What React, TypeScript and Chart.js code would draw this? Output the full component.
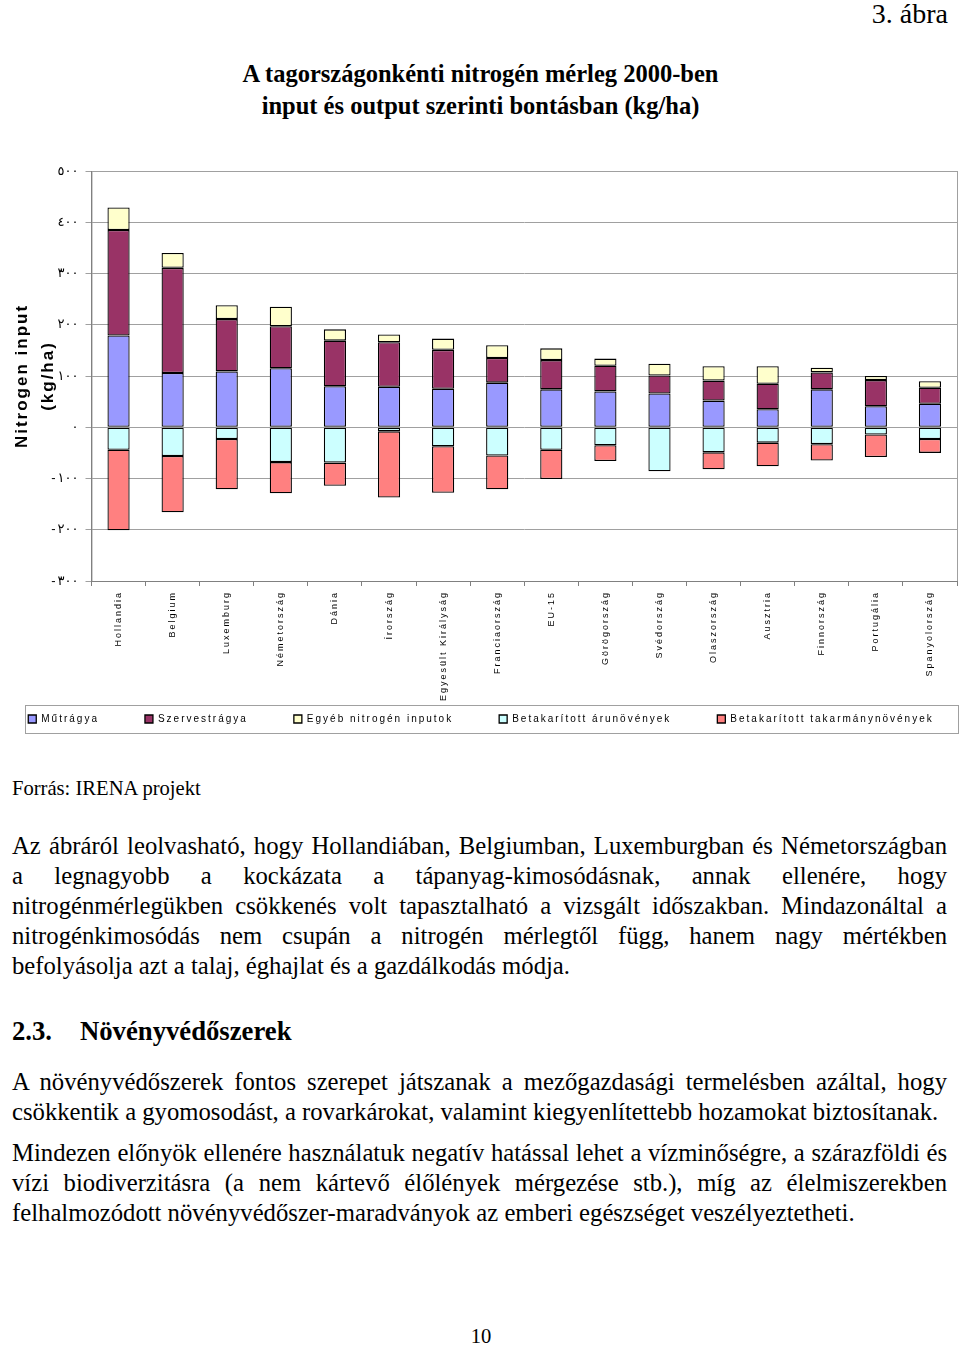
import React, { useEffect, useRef } from 'react';
import { Chart, registerables } from 'chart.js';

Chart.register(...registerables);

// ---------- data ----------
const categories = [
  'Hollandia', 'Belgium', 'Luxemburg', 'Németország', 'Dánia', 'Írország',
  'Egyesült Királyság', 'Franciaország', 'EU-15', 'Görögország', 'Svédország',
  'Olaszország', 'Ausztria', 'Finnország', 'Portugália', 'Spanyolország',
];
const seriesNames = [
  'Műtrágya', 'Szervestrágya', 'Egyéb nitrogén inputok',
  'Betakarított árunövények', 'Betakarított takarmánynövények',
];
const mutragya = [179, 106, 109, 115, 80, 79, 75, 87, 74, 70, 66, 52, 35, 74, 41, 46];
const szervestragya = [206, 205, 102, 82, 89, 87, 76, 48, 57, 50, 35, 39, 50, 33, 51, 31];
const egyebInput = [44, 29, 27, 38, 22, 15, 22, 25, 23, 14, 23, 28, 34, 9, 8, 13];
const aruNovenyek = [-44, -56, -23, -68, -69, -8, -37, -55, -44, -35, -86, -49, -30, -33, -14, -23];
const takarmanyNovenyek = [-157, -110, -98, -61, -45, -129, -91, -66, -57, -31, 0, -33, -46, -32, -44, -27];
const yTickValues = [-300, -200, -100, 0, 100, 200, 300, 400, 500];
const yTickLabels = ['-٣٠٠', '-٢٠٠', '-١٠٠', '٠', '١٠٠', '٢٠٠', '٣٠٠', '٤٠٠', '٥٠٠'];
const yTitle = ['Nitrogen input', '(kg/ha)'];

const seriesColors = ['#9999FF', '#993366', '#FFFFCC', '#CCFFFF', '#FF8080'];

const SANS = '"Liberation Sans", "DejaVu Sans", Arial, sans-serif';
const SERIF = '"Liberation Serif", "Times New Roman", serif';

const spacingPlugin = {
  id: 'spacing',
  beforeUpdate(chart: any) { chart.ctx.letterSpacing = '2px'; },
  beforeLayout(chart: any) { chart.ctx.letterSpacing = '2px'; },
  beforeDraw(chart: any) {
    const ctx = chart.ctx;
    ctx.letterSpacing = '2px';
    const xs = chart.scales && chart.scales.x;
    if (xs) xs._computeLabelArea = () => undefined;
    const a = chart.chartArea;
    ctx.save();
    ctx.strokeStyle = '#a0a0a0';
    ctx.lineWidth = 1;
    ctx.strokeRect(a.left + 0.5, a.top + 0.5, a.right - a.left, a.bottom - a.top);
    ctx.restore();
  },
  afterDraw(chart: any) {
    const hb = chart.legend && chart.legend.legendHitBoxes;
    if (!hb || !hb.length) return;
    const ctx = chart.ctx;
    const a = chart.chartArea;
    const left = hb[0].left - 3;
    const top = hb[0].top - 9;
    const bottom = hb[0].top + hb[0].height + 9;
    ctx.save();
    ctx.strokeStyle = '#a0a0a0';
    ctx.lineWidth = 1;
    ctx.strokeRect(Math.round(left) + 0.5, Math.round(top) + 0.5, Math.round(a.right + 1 - left), Math.round(bottom - top));
    ctx.restore();
  },
};

const CANVAS_LEFT = -25;
const CANVAS_W = 1012;

function NitrogenChart() {
  const ref = useRef<HTMLCanvasElement | null>(null);
  useEffect(() => {
    if (!ref.current) return;
    const seriesData = [mutragya, szervestragya, egyebInput, aruNovenyek, takarmanyNovenyek];
    const chart = new Chart(ref.current, {
      type: 'bar',
      data: {
        labels: categories,
        datasets: seriesNames.map((name, i) => ({
          label: name,
          data: seriesData[i],
          backgroundColor: seriesColors[i],
          borderColor: '#000000',
          borderWidth: 1.3,
          borderSkipped: false,
          barPercentage: 0.41,
          categoryPercentage: 1,
        })),
      },
      options: {
        responsive: false,
        animation: false,
        devicePixelRatio: 1,
        layout: { padding: { top: 31, right: 0, bottom: 6, left: 0 } },
        plugins: {
          tooltip: { enabled: false },
          title: { display: false },
          legend: {
            position: 'bottom',
            labels: {
              boxWidth: 8,
              boxHeight: 8,
              padding: 46,
              color: '#000',
              font: { family: SANS, size: 10 },
            },
          },
        },
        scales: {
          x: {
            stacked: true,
            offset: true,
            grid: {
              display: true,
              drawOnChartArea: false,
              drawTicks: true,
              tickLength: 5,
              offset: true,
              color: '#808080',
            },
            border: { display: true, color: '#808080' },
            ticks: {
              autoSkip: false,
              minRotation: 90,
              maxRotation: 90,
              padding: 5,
              color: '#000',
              font: { family: SANS, size: 9 },
            },
            afterFit: (s: any) => { s.height = 87; },
          },
          y: {
            stacked: true,
            min: -300,
            max: 500,
            ticks: {
              stepSize: 100,
              padding: 7,
              color: '#000',
              font: { family: SANS, size: 13 },
              callback: (v: any) => {
                const i = yTickValues.indexOf(Number(v));
                return i >= 0 ? yTickLabels[i] : '';
              },
            },
            grid: { color: '#a0a0a0', tickLength: 6, drawTicks: true },
            border: { display: true, color: '#808080' },
            title: {
              display: true,
              text: yTitle,
              color: '#000',
              font: { family: SANS, size: 17, weight: 'bold', lineHeight: 1.53 },
              padding: { top: 34, bottom: 0 },
            },
            afterFit: (s: any) => { s.width = 91.5 - CANVAS_LEFT; },
          },
          yRight: {
            position: 'right',
            min: -300,
            max: 500,
            grid: { display: false, drawOnChartArea: false },
            border: { display: false },
            ticks: { display: false },
            afterFit: (s: any) => { s.width = CANVAS_LEFT + CANVAS_W - 957; },
          },
        },
      },
      plugins: [spacingPlugin],
    } as any);
    return () => chart.destroy();
  }, []);
  return (
    <canvas
      ref={ref}
      width={CANVAS_W}
      height={600}
      style={{ position: 'absolute', left: CANVAS_LEFT, top: 140, width: CANVAS_W, height: 600 }}
    />
  );
}

type TLProps = {
  baseline: number;
  size: number;
  left?: number;
  width?: number;
  bold?: boolean;
  align?: 'left' | 'right' | 'center' | 'justify';
  children: React.ReactNode;
};

function TextLine({ baseline, size, left = 12, width = 935, bold, align = 'left', children }: TLProps) {
  const style: React.CSSProperties = {
    position: 'absolute',
    left,
    width,
    top: baseline - 0.8375 * size,
    fontFamily: SERIF,
    fontSize: size,
    lineHeight: `${size}px`,
    fontWeight: bold ? 'bold' : 'normal',
    color: '#000',
    textAlign: align === 'justify' ? 'justify' : align,
    whiteSpace: align === 'justify' ? 'normal' : 'nowrap',
  };
  if (align === 'justify') (style as any).textAlignLast = 'justify';
  return <div style={style}>{children}</div>;
}

export default function App() {
  const B = 24.7;
  return (
    <div style={{ position: 'absolute', left: 0, top: 0, width: 960, height: 1345, background: '#fff', overflow: 'hidden' }}>
      <TextLine baseline={23} size={28} left={600} width={348} align="right">3. ábra</TextLine>
      <TextLine baseline={83} size={24.5} left={0} width={961} bold align="center">A tagországonkénti nitrogén mérleg 2000-ben</TextLine>
      <TextLine baseline={115} size={24.5} left={0} width={961} bold align="center">input és output szerinti bontásban (kg/ha)</TextLine>

      <NitrogenChart />

      <TextLine baseline={795} size={20.6}>Forrás: IRENA projekt</TextLine>

      <TextLine baseline={855} size={B} align="justify">Az ábráról leolvasható, hogy Hollandiában, Belgiumban, Luxemburgban és Németországban</TextLine>
      <TextLine baseline={885} size={B} align="justify">a legnagyobb a kockázata a tápanyag-kimosódásnak, annak ellenére, hogy</TextLine>
      <TextLine baseline={915} size={B} align="justify">nitrogénmérlegükben csökkenés volt tapasztalható a vizsgált időszakban. Mindazonáltal a</TextLine>
      <TextLine baseline={945} size={B} align="justify">nitrogénkimosódás nem csupán a nitrogén mérlegtől függ, hanem nagy mértékben</TextLine>
      <TextLine baseline={975} size={B}>befolyásolja azt a talaj, éghajlat és a gazdálkodás módja.</TextLine>

      <TextLine baseline={1040} size={26.7} bold>2.3.</TextLine>
      <TextLine baseline={1040} size={26.7} left={80} width={600} bold>Növényvédőszerek</TextLine>

      <TextLine baseline={1091} size={B} align="justify">A növényvédőszerek fontos szerepet játszanak a mezőgazdasági termelésben azáltal, hogy</TextLine>
      <TextLine baseline={1121} size={B}>csökkentik a gyomosodást, a rovarkárokat, valamint kiegyenlítettebb hozamokat biztosítanak.</TextLine>

      <TextLine baseline={1162} size={B} align="justify">Mindezen előnyök ellenére használatuk negatív hatással lehet a vízminőségre, a szárazföldi és</TextLine>
      <TextLine baseline={1192} size={B} align="justify">vízi biodiverzitásra (a nem kártevő élőlények mérgezése stb.), míg az élelmiszerekben</TextLine>
      <TextLine baseline={1222} size={B}>felhalmozódott növényvédőszer-maradványok az emberi egészséget veszélyeztetheti.</TextLine>

      <TextLine baseline={1343} size={20.6} left={0} width={962} align="center">10</TextLine>
    </div>
  );
}
